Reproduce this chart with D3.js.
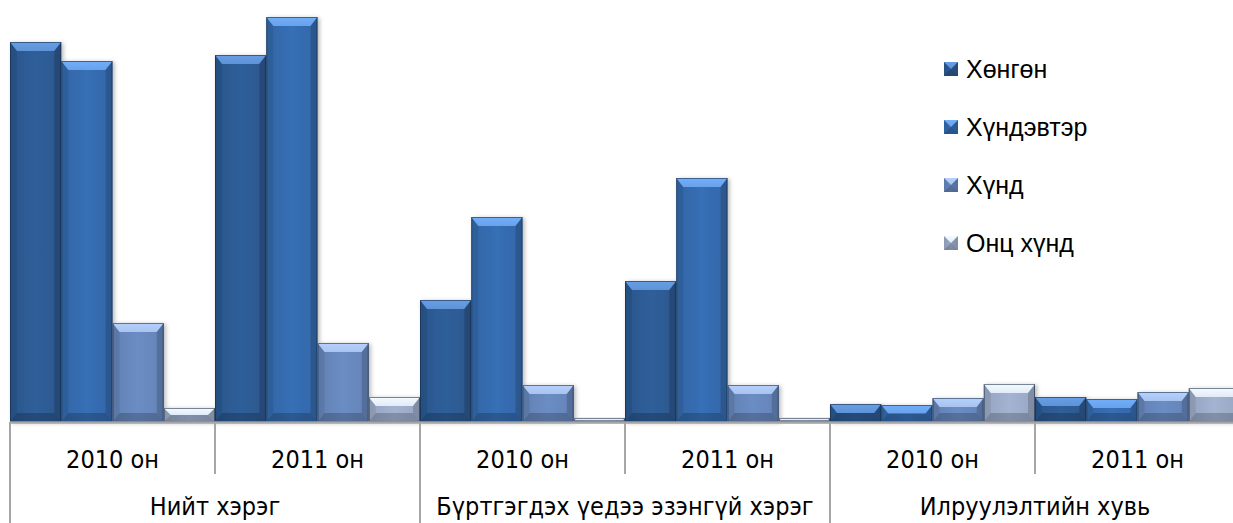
<!DOCTYPE html>
<html><head><meta charset="utf-8">
<script src="https://cdn.jsdelivr.net/npm/d3@7/dist/d3.min.js"></script>
<style>
html,body{margin:0;padding:0;background:#fff;overflow:hidden}
svg{display:block}
</style></head>
<body>
<svg id="chart" width="1233" height="523"></svg>
<script>
const groups = ["Нийт хэрэг", "Бүртгэгдэх үедээ эзэнгүй хэрэг", "Илруулэлтийн хувь"];
const years = ["2010 он", "2011 он"];
const seriesNames = ["Хөнгөн", "Хүндэвтэр", "Хүнд", "Онц хүнд"];
// values per series, ordered: group0-2010, group0-2011, group1-2010, group1-2011, group2-2010, group2-2011
const hongon     = [380, 367, 122, 141, 18, 25];
const hundevter  = [361, 405, 205, 244, 17, 23];
const hund       = [ 99,  79,  37,  37, 24, 30];
const ontsHund   = [ 14,  25,   4,   4, 38, 34];
const seriesValues = [hongon, hundevter, hund, ontsHund];

const faceColors  = ["#2f5e99", "#376fb5", "#6b8dc4", "#a3b3d1"];
const topColors   = ["#5f93d6", "#69a2ea", "#a9c3ee", "#e2eaf8"];

const svg = d3.select("#chart");
const defs = svg.append("defs");
const f = defs.append("filter").attr("id","shadow").attr("x","-20%").attr("y","-20%").attr("width","150%").attr("height","150%");
f.append("feDropShadow").attr("dx",2).attr("dy",1).attr("stdDeviation",2).attr("flood-color","#000").attr("flood-opacity",0.28);

faceColors.forEach((c,i)=>{
  const g = defs.append("linearGradient").attr("id","face"+i).attr("x1","0").attr("x2","1").attr("y1","0").attr("y2","0");
  g.append("stop").attr("offset","0").attr("stop-color",d3.color(c).darker(0.25));
  g.append("stop").attr("offset","0.5").attr("stop-color",c);
  g.append("stop").attr("offset","1").attr("stop-color",d3.color(c).darker(0.2));
  const t = defs.append("linearGradient").attr("id","top"+i).attr("x1","0").attr("x2","0").attr("y1","0").attr("y2","1");
  t.append("stop").attr("offset","0").attr("stop-color",d3.color(topColors[i]).brighter(0.2));
  t.append("stop").attr("offset","1").attr("stop-color",topColors[i]);
});

const baseY = 422;
const x0 = d3.scaleBand().domain(groups).range([10, 1240]).padding(0);
const x1 = d3.scaleBand().domain(years).range([0, x0.bandwidth()]).padding(0);
const x2 = d3.scaleBand().domain(seriesNames).range([0, x1.bandwidth()]).padding(0);
const y = d3.scaleLinear().domain([0, 420]).range([baseY, baseY - 420]);

const data = [];
groups.forEach((g,gi)=>years.forEach((yr,yi)=>seriesNames.forEach((s,si)=>{
  data.push({g, yr, s, si, v: seriesValues[si][gi*2+yi]});
})));

function bevelBar(sel, X0, Y0, X1, Y1, si, bMax, bMaxSide){
  const w = X1-X0, h = Y1-Y0;
  const bt = Math.min(bMax, h/2, w/2);
  const bs = Math.min(bMaxSide, w/2, h/2);
  const g = sel.append("g");
  g.append("rect").attr("x",X0).attr("y",Y0).attr("width",w).attr("height",h)
    .attr("fill",`url(#face${si})`).attr("filter","url(#shadow)");
  g.append("path").attr("d",`M${X0},${Y0}L${X1},${Y0}L${X1-bs},${Y0+bt}L${X0+bs},${Y0+bt}Z`)
    .attr("fill",`url(#top${si})`);
  g.append("path").attr("d",`M${X0},${Y0}L${X0+bs},${Y0+bt}L${X0+bs},${Y1-bt}L${X0},${Y1}Z`)
    .attr("fill","#000").attr("opacity",0.08);
  g.append("path").attr("d",`M${X1},${Y0}L${X1-bs},${Y0+bt}L${X1-bs},${Y1-bt}L${X1},${Y1}Z`)
    .attr("fill","#000").attr("opacity",0.16);
  g.append("path").attr("d",`M${X0},${Y1}L${X0+bs},${Y1-bt}L${X1-bs},${Y1-bt}L${X1},${Y1}Z`)
    .attr("fill","#000").attr("opacity",0.2);
  g.append("rect").attr("x",X0+0.5).attr("y",Y0+0.5).attr("width",Math.max(0,w-1)).attr("height",Math.max(0,h-1))
    .attr("fill","none").attr("stroke","#14243d").attr("stroke-opacity",0.55).attr("stroke-width",1);
  return g;
}

const barsG = svg.append("g");
data.forEach(d=>{
  const X0 = x0(d.g) + x1(d.yr) + x2(d.s);
  const X1 = X0 + x2.bandwidth();
  const Y0 = y(d.v), Y1 = y(0);
  bevelBar(barsG, X0, Y0, X1, Y1, d.si, 9, 7);
});

const axisG = svg.append("g");
axisG.append("line").attr("x1",10).attr("x2",1240).attr("y1",baseY+0.5).attr("y2",baseY+0.5)
  .attr("stroke","#a6a6a6").attr("stroke-width",2.5);
groups.forEach(g=>{
  years.forEach((yr,yi)=>{
    const xs = x0(g)+x1(yr);
    if(yi>0){
      axisG.append("line").attr("x1",xs).attr("x2",xs).attr("y1",baseY).attr("y2",474)
        .attr("stroke","#a6a6a6").attr("stroke-width",2);
    }
    axisG.append("text").attr("x",xs+x1.bandwidth()/2).attr("y",468)
      .attr("text-anchor","middle").attr("font-family","'DejaVu Sans Condensed','DejaVu Sans',sans-serif")
      .attr("font-size",25).attr("fill","#000").text(yr);
  });
  const gx = x0(g);
  axisG.append("line").attr("x1",gx).attr("x2",gx).attr("y1",baseY).attr("y2",523)
    .attr("stroke","#a6a6a6").attr("stroke-width",2);
  axisG.append("text").attr("x",gx+x0.bandwidth()/2).attr("y",515)
    .attr("text-anchor","middle").attr("font-family","'DejaVu Sans Condensed','DejaVu Sans',sans-serif")
    .attr("font-size",25).attr("fill","#000").text(g);
});
axisG.append("line").attr("x1",1240).attr("x2",1240).attr("y1",baseY).attr("y2",523)
  .attr("stroke","#a6a6a6").attr("stroke-width",2);

const leg = svg.append("g");
const legY = d3.scalePoint().domain(seriesNames).range([69, 243]);
seriesNames.forEach((s,si)=>{
  const cy = legY(s);
  const lg = leg.append("g");
  const sx0=944, sx1=958, sy0=cy-7, sy1=cy+7;
  lg.append("rect").attr("x",sx0).attr("y",sy0).attr("width",14).attr("height",14).attr("fill",`url(#face${si})`);
  lg.append("path").attr("d",`M${sx0},${sy0}L${sx1},${sy0}L${(sx0+sx1)/2},${cy}Z`).attr("fill",`url(#top${si})`);
  lg.append("path").attr("d",`M${sx1},${sy0}L${sx1},${sy1}L${(sx0+sx1)/2},${cy}Z`).attr("fill","#000").attr("opacity",0.15);
  lg.append("path").attr("d",`M${sx0},${sy1}L${sx1},${sy1}L${(sx0+sx1)/2},${cy}Z`).attr("fill","#000").attr("opacity",0.22);
  lg.append("path").attr("d",`M${sx0},${sy0}L${sx0},${sy1}L${(sx0+sx1)/2},${cy}Z`).attr("fill","#000").attr("opacity",0.06);
  lg.append("text").attr("x",966).attr("y",cy+9).attr("font-family","'Liberation Sans',Arial,sans-serif")
    .attr("font-size",25).attr("fill","#000").text(s);
});
</script>
</body></html>
